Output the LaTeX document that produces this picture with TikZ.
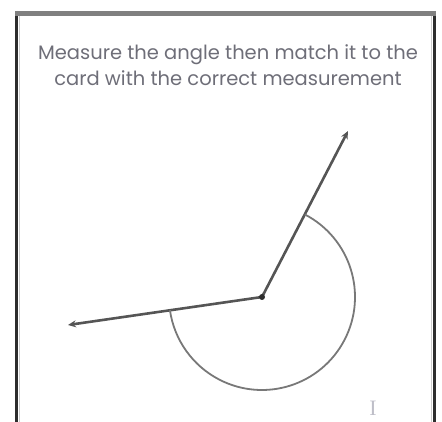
\documentclass[tikz,border=0pt]{standalone}
\usepackage{fontspec}
\setmainfont{Poppins}
\newfontfamily\cursorfont{Liberation Serif}
\definecolor{cardframe}{RGB}{45,45,45}
\definecolor{cardtop}{RGB}{128,128,128}
\definecolor{cardedge}{RGB}{205,205,205}
\definecolor{cardtext}{RGB}{110,110,120}
\definecolor{raygray}{RGB}{85,85,85}
\definecolor{arcgray}{RGB}{120,120,120}
\definecolor{cursorgray}{RGB}{190,190,200}
\usetikzlibrary{arrows.meta,positioning,calc}

\begin{document}
\begin{tikzpicture}[x=1pt, y=1pt]
  \useasboundingbox (0,0) rectangle (442,422);

  % card frame
  \draw[cardedge, line width=1.5pt] (19.5,408) -- (19.5,0);
  \draw[cardedge, line width=1.5pt] (431.5,408) -- (431.5,0);
  \draw[cardframe, line width=3pt] (16.5,411) -- (16.5,0);
  \draw[cardframe, line width=3pt] (434.5,411) -- (434.5,0);
  \draw[cardtop, line width=5pt] (15,408.5) -- (436,408.5);

  \node[font=\fontsize{19.5}{26}\selectfont, text=cardtext, align=center] (title) at (228,357) {Measure the angle then match it to the\\card with the correct measurement};

  % angle
  \coordinate (v) at (262,125);
  \coordinate (a) at (348,291);
  \coordinate (b) at (68,97);

  \draw[-{Stealth[length=8pt,width=7pt]}, line width=2.6pt, raygray] (v) -- (a);
  \draw[-{Stealth[length=8pt,width=7pt]}, line width=2.6pt, raygray] (v) -- (b);
  \fill[cardframe] (v) circle (3pt);

  \draw[arcgray, line width=1.8pt] ($(v)+(62.6:93)$) arc[start angle=62.6, end angle=-171.8, radius=93];

  \node[font=\cursorfont\fontsize{22}{22}\selectfont, text=cursorgray] (cursor) at (373,14) {I};
\end{tikzpicture}
\end{document}
